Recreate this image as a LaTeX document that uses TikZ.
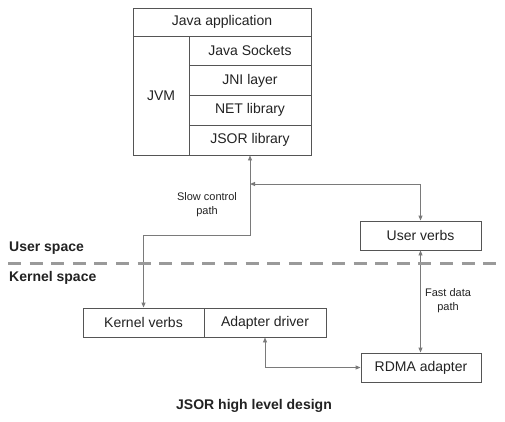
\documentclass[tikz,border=0pt]{standalone}
\usepackage{fontspec}
\setmainfont{Liberation Sans}
\usetikzlibrary{arrows.meta}
\definecolor{boxline}{HTML}{555555}
\definecolor{conn}{HTML}{7A7A7A}
\definecolor{txt}{HTML}{222222}
\definecolor{dashc}{HTML}{9A9A9A}
\tikzset{
  box/.style={draw=boxline, line width=0.9pt, rectangle, inner sep=0pt, text=txt,
    font=\fontsize{14}{16}\selectfont, minimum height=29.75pt},
  conn/.style={draw=conn, line width=0.9pt, {Triangle[length=5pt,width=4pt]}-{Triangle[length=5pt,width=4pt]}},
  lbl/.style={text=txt, font=\fontsize{11}{14}\selectfont, align=center, inner sep=0pt},
  space/.style={text=txt, font=\bfseries\fontsize{14}{16}\selectfont, anchor=west, inner sep=0pt},
}
\begin{document}
\begin{tikzpicture}[x=1pt,y=-1pt]
\useasboundingbox (0,0) rectangle (505,421);
\node[box, minimum width=178pt, minimum height=28pt] (app) at (222,22) {Java application};
\node[box, minimum width=56pt, minimum height=119pt] (jvm) at (161,95.5) {JVM};
\node[box, minimum width=122pt] (sock) at (250,50.875) {Java Sockets};
\node[box, minimum width=122pt] (jni) at (250,80.625) {JNI layer};
\node[box, minimum width=122pt] (net) at (250,110.375) {NET library};
\node[box, minimum width=122pt] (jsor) at (250,140.125) {JSOR library};
\node[box, minimum width=121pt, minimum height=29pt] (uverbs) at (420.5,235.5) {User verbs};
\node[box, minimum width=121pt, minimum height=29pt] (kverbs) at (143.5,322.5) {Kernel verbs};
\node[box, minimum width=122pt, minimum height=29pt] (adrv) at (265,322.5) {Adapter driver};
\node[box, minimum width=120pt, minimum height=29pt] (rdma) at (421,367.5) {RDMA adapter};

\coordinate (turn) at (250,235);
\coordinate (branch) at (250,184);
\draw[conn] (jsor.south) -- (turn) -| (kverbs.north);
\draw[conn] (branch) -| (uverbs.north);
\draw[conn] (uverbs.south) -- (uverbs.south |- rdma.north);
\draw[conn] (adrv.south) |- (rdma.west);

\node[lbl] (slow) at (207,205) {Slow control\\path};
\node[lbl] (fast) at (448,301) {Fast data\\path};

\coordinate (dl) at (8,263);
\coordinate (dr) at (500,263);
\draw[dashc, line width=3pt, dash pattern=on 13pt off 8.6pt] (dl) -- (dr);
\node[space] (us) at (9,248) {User space};
\node[space] (ks) at (9,278) {Kernel space};
\node[text=txt, font=\bfseries\fontsize{14}{16}\selectfont] (title) at (254,406) {JSOR high level design};
\end{tikzpicture}
\end{document}
